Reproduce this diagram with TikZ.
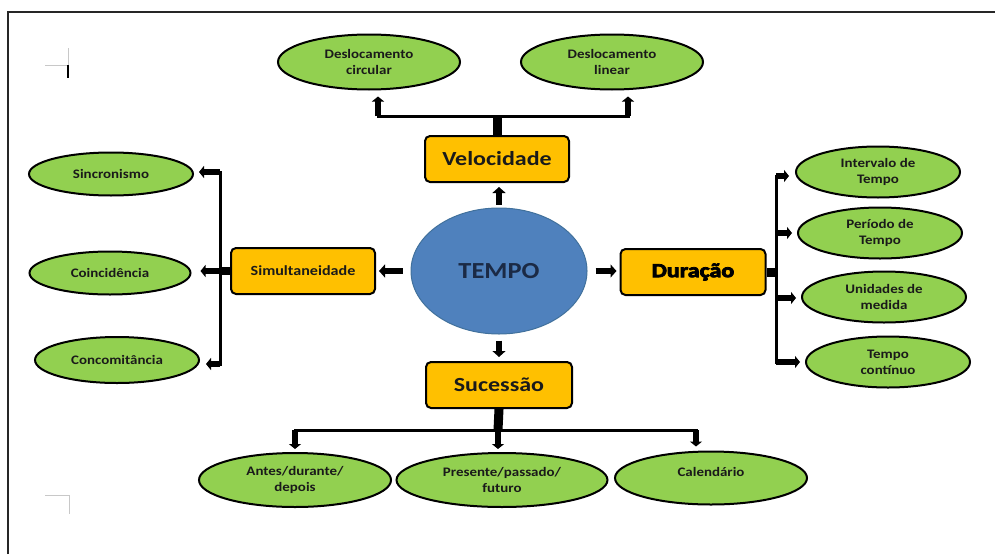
\documentclass[tikz,border=0pt]{standalone}
\usepackage{fontspec}
\setmainfont{Carlito}
\newfontfamily\leaffont{Carlito}[FakeStretch=1.15]
\newfontfamily\boxfont{Carlito}[FakeStretch=1.2]
\newfontfamily\heavyfont{Carlito}[FakeStretch=1.2, BoldFeatures={FakeBold=4}]
\usetikzlibrary{arrows.meta,shapes.geometric}
\definecolor{leaf}{HTML}{92D050}
\definecolor{hub}{HTML}{4F81BD}
\definecolor{hubedge}{HTML}{41719C}
\definecolor{boxfill}{HTML}{FFC000}
\definecolor{ink}{HTML}{1A1A1A}
\definecolor{navy}{HTML}{1B2A45}
\definecolor{cropgray}{HTML}{C8C8C8}
\begin{document}
\begin{tikzpicture}[x=1pt,y=-1pt,
  leafnode/.style={ellipse, draw=black, line width=2pt, fill=leaf, inner sep=0pt,
    align=center, text=ink, font=\leaffont\bfseries\fontsize{13}{16}\selectfont},
  boxnode/.style={rectangle, rounded corners=5pt, draw=black, line width=2pt, fill=boxfill,
    inner sep=0pt, minimum width=144pt, minimum height=46pt, text=ink},
  arr/.style={line width=6pt, -{Triangle[length=6pt,width=13pt]}},
  tarr/.style={line width=5.5pt, -{Triangle[length=5pt,width=12pt]}},
  stem/.style={line width=9pt},
  bar/.style={line width=3pt, line cap=rect},
]
\useasboundingbox (0,0) rectangle (995,554);
% page frame and marks
\draw[line width=1.5pt, black!85] (8,554) -- (8,12) -- (995,12);
\draw[cropgray, line width=1pt] (45,65) -- (68,65) (68,48) -- (68,65);
\draw[black, line width=2pt] (68,65) -- (68,78);
\draw[cropgray, line width=1pt] (45,495) -- (69,495) -- (69,514);

% central node
\node[ellipse, draw=hubedge, line width=1pt, fill=hub, minimum width=176pt, minimum height=126pt,
  text=navy, font=\leaffont\bfseries\fontsize{23}{26}\selectfont] (tempo) at (499,271) {TEMPO};

% main boxes
\node[boxnode, font=\boxfont\bfseries\fontsize{20}{22}\selectfont] (vel) at (497,159) {Velocidade};
\node[boxnode, minimum width=146pt, font=\boxfont\bfseries\fontsize{20}{22}\selectfont] (suc) at (499,385) {Sucessão};
\node[boxnode, font=\leaffont\bfseries\fontsize{14}{16}\selectfont] (sim) at (303,271) {Simultaneidade};
\node[boxnode, minimum width=145pt, text=black, font=\heavyfont\bfseries\fontsize{20}{22}\selectfont] (dur) at (693,272) {Duração};

% leaves
\node[leafnode, minimum width=182pt, minimum height=55pt] (dc) at (369,62) {Deslocamento\\circular};
\node[leafnode, minimum width=182pt, minimum height=55pt] (dl) at (612,62) {Deslocamento\\linear};
\node[leafnode, minimum width=164pt, minimum height=43pt] (sinc) at (111,174) {Sincronismo};
\node[leafnode, minimum width=161pt, minimum height=43pt] (coin) at (110,273) {Coincidência};
\node[leafnode, minimum width=164pt, minimum height=46pt] (conc) at (117,360) {Concomitância};
\node[leafnode, minimum width=164pt, minimum height=51pt] (int) at (878,172) {Intervalo de\\Tempo};
\node[leafnode, minimum width=164pt, minimum height=51pt] (per) at (880,233) {Período de\\Tempo};
\node[leafnode, minimum width=164pt, minimum height=51pt] (uni) at (884,297) {Unidades de\\medida};
\node[leafnode, minimum width=164pt, minimum height=51pt] (tc) at (888,362) {Tempo\\contínuo};
\node[leafnode, minimum width=192pt, minimum height=54pt] (ant) at (295,480) {Antes/durante/\\depois};
\node[leafnode, minimum width=211pt, minimum height=54pt] (pre) at (502,480) {Presente/passado/\\futuro};
\node[leafnode, minimum width=192pt, minimum height=53pt, text depth=12pt] (cal) at (711,478) {Calendário};

% arrows from TEMPO
\draw[arr, shorten <=3pt, shorten >=4pt] (tempo.north) -- (tempo.north |- vel.south);
\draw[arr, shorten <=6pt, shorten >=4pt] (tempo.south) -- (tempo.south |- suc.north);
\draw[arr, shorten <=8pt, shorten >=3pt] (tempo.west) -- (sim.east);
\draw[arr, shorten <=8pt, shorten >=3pt] (tempo.east) -- (tempo.east -| dur.west);

% Velocidade tree
\coordinate (vj) at (497,116);
\coordinate (vjl) at (378,116);
\coordinate (vjr) at (628,116);
\draw[stem] (vel.north) -- (vj);
\draw[bar] (vjl) -- (vjr);
\draw[tarr, shorten >=6pt] (vjl) -- (vjl |- dc.south);
\draw[tarr, shorten >=6pt] (vjr) -- (vjr |- dl.south);

% Sucessao tree
\coordinate (sj) at (498,430);
\coordinate (sjl) at (295,430);
\coordinate (sjr) at (696,430);
\draw[stem] (suc.south) -- (sj);
\draw[bar] (sjl) -- (sjr);
\draw[tarr, shorten >=3pt] (sjl) -- (sjl |- ant.north);
\draw[tarr, shorten >=3pt] (sj) -- (sj |- pre.north);
\draw[tarr, shorten >=4pt] (sjr) -- (sjr |- cal.north);

% Simultaneidade tree
\coordinate (lt) at (220,172);
\coordinate (lm) at (220,271);
\coordinate (lb) at (220,364);
\draw[line width=8pt] (sim.west) -- (lm);
\draw[bar] (lt) -- (lb);
\draw[tarr, shorten >=5pt] (lt) -- (lt -| sinc.east);
\draw[tarr, shorten >=9pt] (lm) -- (lm -| coin.east);
\draw[tarr, shorten >=6pt] (lb) -- (lb -| conc.east);

% Duracao tree
\coordinate (rt) at (776,176);
\coordinate (rm) at (776,272);
\coordinate (rb) at (776,362);
\coordinate (ru) at (776,298);
\coordinate (rp) at (776,233);
\draw[stem] (dur.east) -- (rm);
\draw[bar] (rt) -- (rb);
\draw[tarr, shorten >=6pt] (rt) -- (rt -| int.west);
\draw[tarr, shorten >=5pt] (rp) -- (rp -| per.west);
\draw[tarr, shorten >=5pt] (ru) -- (ru -| uni.west);
\draw[tarr, shorten >=5pt] (rb) -- (rb -| tc.west);
\end{tikzpicture}
\end{document}
